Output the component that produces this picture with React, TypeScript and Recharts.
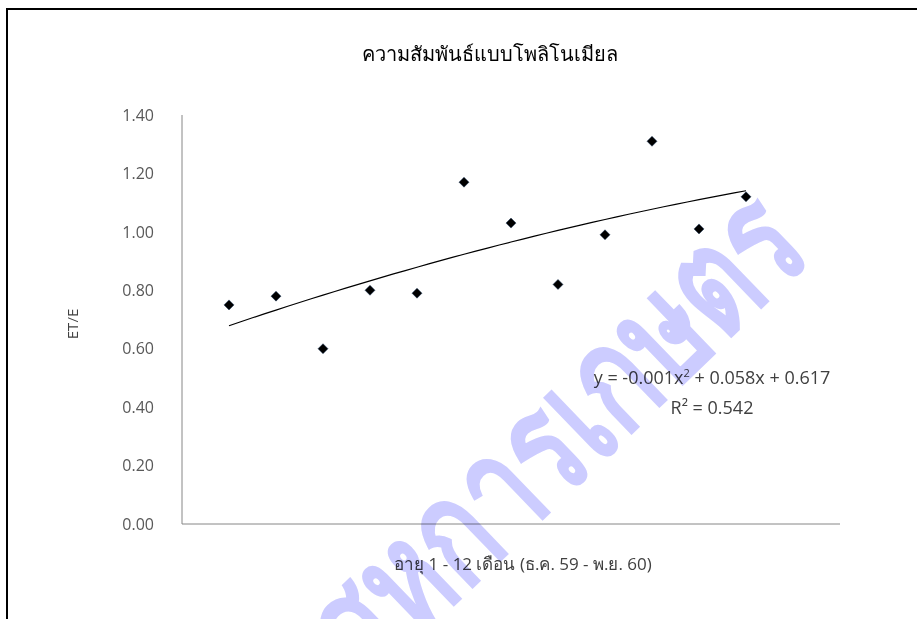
import React from 'react'
import { ScatterChart, Scatter, XAxis, YAxis } from 'recharts'

// ET/E by age in months (Dec 59 - Nov 60)
const months = [1, 2, 3, 4, 5, 6, 7, 8, 9, 10, 11, 12]
const ratios = [0.75, 0.78, 0.60, 0.80, 0.79, 1.17, 1.03, 0.82, 0.99, 1.31, 1.01, 1.12]
const yTicks = [0, 0.2, 0.4, 0.6, 0.8, 1.0, 1.2, 1.4]

const points = months.map((m, i) => ({ x: m, y: ratios[i] }))

// least squares 2nd order polynomial, like Excel's trendline
function polyfit2(xs: number[], ys: number[]) {
  const n = xs.length
  let s1 = 0, s2 = 0, s3 = 0, s4 = 0, t0 = 0, t1 = 0, t2 = 0
  for (let i = 0; i < n; i++) {
    const x = xs[i], y = ys[i]
    s1 += x; s2 += x * x; s3 += x * x * x; s4 += x * x * x * x
    t0 += y; t1 += x * y; t2 += x * x * y
  }
  const m = [
    [s4, s3, s2, t2],
    [s3, s2, s1, t1],
    [s2, s1, n, t0],
  ]
  for (let c = 0; c < 3; c++) {
    for (let r = c + 1; r < 3; r++) {
      const f = m[r][c] / m[c][c]
      for (let k = c; k < 4; k++) m[r][k] -= f * m[c][k]
    }
  }
  const res = [0, 0, 0]
  for (let r = 2; r >= 0; r--) {
    let s = m[r][3]
    for (let k = r + 1; k < 3; k++) s -= m[r][k] * res[k]
    res[r] = s / m[r][r]
  }
  return res // a, b, c
}

const [qa, qb, qc] = polyfit2(months, ratios)
const trend: { x: number; y: number }[] = []
for (let i = 0; i <= 44; i++) {
  const x = months[0] + (i * (months[months.length - 1] - months[0])) / 44
  trend.push({ x, y: qa * x * x + qb * x + qc })
}

const Diamond = (props: any) => {
  const { cx, cy } = props
  const r = 5
  return <polygon points={`${cx},${cy - r} ${cx + r},${cy} ${cx},${cy + r} ${cx - r},${cy}`} fill="#000" stroke="#1f3a5f" strokeWidth={0.5} />
}

const NoDot = () => <g />

const textFont = '"Open Sans", "Noto Sans", sans-serif'

function App() {
  return (
    <div style={{ position: 'absolute', left: 0, top: 0, width: 917, height: 619, overflow: 'hidden', background: '#fff' }}>
      <div style={{ position: 'absolute', left: 6, top: 8, width: 1000, height: 700, border: '2px solid #000', boxSizing: 'border-box' }} />
      <ScatterChart width={917} height={619} margin={{ top: 115, right: 77, bottom: 0, left: 0 }} style={{ position: 'absolute', left: 0, top: 0 }}>
        <XAxis type="number" dataKey="x" domain={[0, 14]} tick={false} tickLine={false} height={95} axisLine={{ stroke: '#868686' }} />
        <YAxis type="number" dataKey="y" domain={[0, 1.4]} ticks={yTicks} width={182} tickLine={false}
          axisLine={{ stroke: '#868686' }} tickMargin={22}
          tickFormatter={(v: number) => v.toFixed(2)}
          tick={{ fill: '#595959', fontSize: 16, fontFamily: textFont }} />
        <Scatter data={trend} line={{ stroke: '#000', strokeWidth: 1.2 }} shape={NoDot} isAnimationActive={false} />
        <Scatter data={points} shape={Diamond} isAnimationActive={false} />
      </ScatterChart>
      <div style={{ position: 'absolute', left: 0, width: 980, top: 38, textAlign: 'center', fontSize: 20, color: '#000', fontFamily: textFont }}>
        ความสัมพันธ์แบบโพลิโนเมียล
      </div>
      <div style={{ position: 'absolute', left: 32, top: 314, width: 80, textAlign: 'center', transform: 'rotate(-90deg)', fontSize: 15, color: '#404040', fontFamily: textFont }}>
        ET/E
      </div>
      <div style={{ position: 'absolute', left: 300, width: 446, top: 550, textAlign: 'center', fontSize: 17, color: '#404040', fontFamily: textFont }}>
        อายุ 1 - 12 เดือน (ธ.ค. 59 - พ.ย. 60)
      </div>
      <div style={{ position: 'absolute', left: 552, width: 320, top: 358, textAlign: 'center', fontSize: 18, color: '#404040', fontFamily: textFont, lineHeight: '30px' }}>
        <div>y = -0.001x<sup style={{ fontSize: 11 }}>2</sup> + 0.058x + 0.617</div>
        <div>R² = 0.542</div>
      </div>
      <div style={{ position: 'absolute', left: 100, top: 355, width: 900, textAlign: 'center', transform: 'rotate(-44deg) scaleX(0.72)', fontSize: 150, fontWeight: 600, color: '#ccccff', mixBlendMode: 'multiply', fontFamily: textFont, lineHeight: 1, pointerEvents: 'none', whiteSpace: 'nowrap' }}>
        สหการเกษตร
      </div>
    </div>
  )
}

export default App
